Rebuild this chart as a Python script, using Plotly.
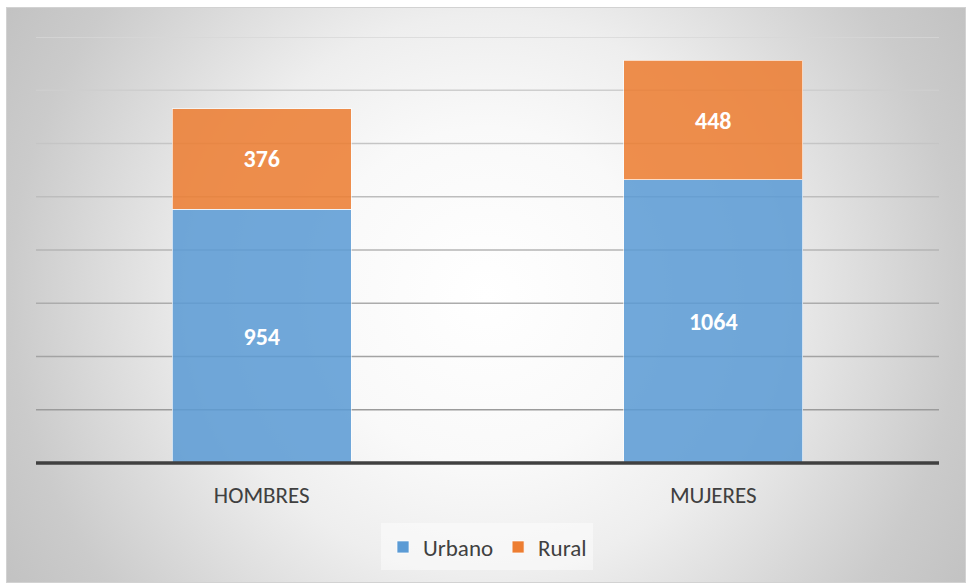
import plotly.graph_objects as go
import urllib.parse

# ---- data ----
categories = ["HOMBRES", "MUJERES"]
urbano = [954, 1064]
rural = [376, 448]
grid_ticks = [200, 400, 600, 800, 1000, 1200, 1400, 1600]

W, H = 966, 583
ML, MR, MT, MB = 36, 27, 37, 120
PW, PH = W - ML - MR, H - MT - MB

FONT = "Carlito, Calibri, Lato, 'Open Sans', sans-serif"

# background radial gradient as svg image
bx, by, bw, bh = 6, 7, 960, 576
svg = f'''<svg xmlns="http://www.w3.org/2000/svg" width="{bw}" height="{bh}" viewBox="0 0 {bw} {bh}">
<defs><radialGradient id="g" gradientUnits="userSpaceOnUse" cx="{bw/2}" cy="{bh/2}" r="560">
<stop offset="0" stop-color="#ffffff"/>
<stop offset="0.3" stop-color="#f9f9f9"/>
<stop offset="0.5" stop-color="#eeeeee"/>
<stop offset="0.85" stop-color="#cbcbcb"/>
<stop offset="1" stop-color="#c2c2c2"/>
</radialGradient></defs>
<rect x="0.5" y="0.5" width="{bw-1}" height="{bh-1}" fill="url(#g)" stroke="#d2d2d2" stroke-width="1"/>
</svg>'''
src = "data:image/svg+xml;charset=utf-8," + urllib.parse.quote(svg)

fig = go.Figure()
fig.add_trace(go.Bar(
    name="Urbano", x=categories, y=urbano, text=urbano,
    marker=dict(color="#5B9BD5", opacity=0.86, line=dict(color="rgba(255,255,255,0.7)", width=1)),
    textposition="inside", insidetextanchor="middle", textangle=0,
    textfont=dict(color="white", size=24, family=FONT, weight="bold"),
))
fig.add_trace(go.Bar(
    name="Rural", x=categories, y=rural, text=rural,
    marker=dict(color="#ED7D31", opacity=0.86, line=dict(color="rgba(255,255,255,0.7)", width=1)),
    textposition="inside", insidetextanchor="middle", textangle=0,
    textfont=dict(color="white", size=24, family=FONT, weight="bold"),
))

shapes = []
n = len(grid_ticks)
for i, t in enumerate(grid_ticks):
    f = i / (n - 1)
    c = int(155 + f * (215 - 155))
    shapes.append(dict(type="line", xref="paper", yref="y", x0=0, x1=1, y0=t, y1=t,
                       line=dict(color=f"rgb({c},{c},{c})", width=1.5), layer="below"))
# baseline (paper ref so it is not clipped by the plot area)
shapes.append(dict(type="line", xref="paper", yref="paper", x0=0, x1=1, y0=0, y1=0,
                   line=dict(color="#404040", width=3.5), layer="above"))
# legend backdrop
shapes.append(dict(type="rect", xref="paper", yref="paper",
                   x0=(381 - ML) / PW, x1=(593 - ML) / PW,
                   y0=(H - MB - 570) / PH, y1=(H - MB - 523) / PH,
                   fillcolor="rgba(255,255,255,0.45)", line=dict(width=0), layer="below"))

fig.update_layout(
    width=W, height=H,
    margin=dict(l=ML, r=MR, t=MT, b=MB),
    barmode="stack", bargap=0.604,
    paper_bgcolor="white", plot_bgcolor="rgba(0,0,0,0)",
    font=dict(family=FONT, color="#404040"),
    shapes=shapes,
    images=[dict(source=src, xref="paper", yref="paper",
                 x=(bx - ML) / PW, y=(H - MB - by) / PH,
                 sizex=bw / PW, sizey=bh / PH,
                 xanchor="left", yanchor="top", sizing="stretch", layer="below")],
    showlegend=True,
    legend=dict(orientation="h", x=0.5, xanchor="center", y=(H - MB - 547) / PH, yanchor="middle",
                bgcolor="rgba(0,0,0,0)", font=dict(size=23, color="#404040", family=FONT),
                traceorder="normal"),
    xaxis=dict(showgrid=False, showline=False, ticks="", zeroline=False,
               tickfont=dict(size=23, color="#404040", family=FONT), ticklabelstandoff=16),
    yaxis=dict(range=[0, 1600], showgrid=False, showticklabels=False, zeroline=False,
               showline=False, ticks=""),
)

fig.write_html("out.html", config={"displayModeBar": False},
               post_script="document.body.style.margin='0';document.body.style.overflow='hidden';")
